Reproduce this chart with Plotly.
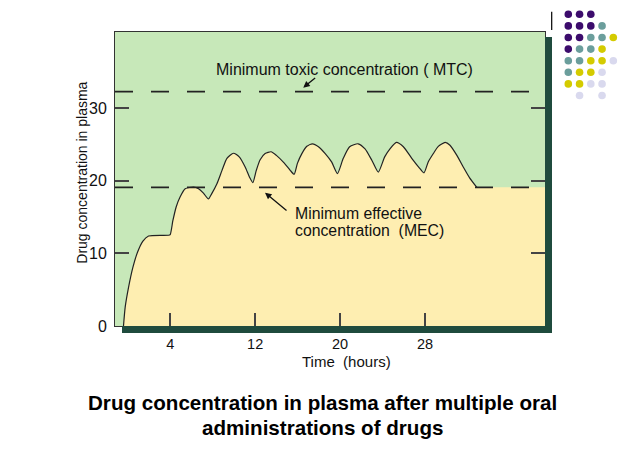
import plotly.graph_objects as go

# ---- curve (hours, concentration) ----
time_h = [-0.4, -0.24, 0.08, 0.49, 0.93, 1.43, 1.96, 3.84, 4.0, 4.25, 4.56, 4.94, 5.41,
          6.2, 6.67, 7.13, 7.6, 7.9, 8.4, 8.87, 9.34, 9.96, 10.5, 11.06, 11.47, 11.78,
          12.1, 12.47, 12.94, 13.5, 14.0, 14.7, 15.3, 15.67,
          15.98, 16.4, 16.87, 17.4, 17.96, 18.6, 19.2, 19.75,
          20.3, 20.9, 21.7, 22.35, 23.0, 23.6,
          24.2, 24.7, 25.3, 25.96, 26.75, 27.4, 27.9,
          28.3, 28.8, 29.25, 29.9, 30.35, 31.0, 31.6, 32.2, 32.9]
conc = [0.0, 2.6, 5.35, 8.1, 10.2, 11.7, 12.4, 12.5, 12.6, 14.5, 16.4, 17.8, 18.9,
        19.15, 18.9, 18.3, 17.5, 18.2, 19.6, 21.4, 23.1, 23.8, 23.3, 21.9, 20.5, 19.75,
        21.4, 22.9, 23.75, 24.0, 23.5, 22.5, 21.45, 20.9,
        22.4, 23.75, 24.75, 25.1, 24.7, 23.75, 22.6, 21.0,
        23.1, 24.7, 25.1, 24.4, 22.8, 21.2,
        23.3, 24.4, 25.3, 24.7, 23.1, 21.9, 21.1,
        22.6, 23.8, 24.75, 25.3, 24.9, 23.5, 21.9, 20.4, 19.05]

# after the last dose the shaded area stays at the MEC level
tail_h = [33.5, 39.3]
tail_c = [19.1, 19.1]

MTC = 32.28
MEC = 19.1

x_ticks = [4, 12, 20, 28]
y_ticks = [0, 10, 20, 30]

# decorative dot grid, top right (P purple, T teal, Y yellow, L lavender)
dot_rows = ["PPP..", "PPPT.", "PPTTY", "PTTY.", "TTYYL", "TYYL.", "YYLL.", ".L.L."]
dot_colors = {"P": "#3C0C6C", "T": "#6B9E9C", "Y": "#D4CB00", "L": "#D9D9EE"}

GREEN = "#C7E8B9"
YELLOW = "#FEEEB1"
DARK = "#1F4B3D"
FONT = "Liberation Sans"

# plot box in page pixels (the page adds an 8px body margin)
PX0, PY0, PW, PH = 115, 326, 430, 294


def px(x):
    return (x - PX0) / PW


def py(y):
    return (PY0 - y) / PH


fig = go.Figure()

# yellow area under the curve
fig.add_trace(go.Scatter(x=time_h + tail_h, y=conc + tail_c, mode="lines",
                         line=dict(width=0, shape="spline", smoothing=0.6),
                         fill="tozeroy", fillcolor=YELLOW, hoverinfo="skip"))
# the curve itself
fig.add_trace(go.Scatter(x=time_h, y=conc, mode="lines",
                         line=dict(color="#222222", width=1.2, shape="spline", smoothing=0.6)))

# MTC / MEC dashed levels
for level in (MTC, MEC):
    fig.add_shape(type="line", xref="paper", x0=0, x1=1, yref="y", y0=level, y1=level,
                  line=dict(color="#222222", width=1.8, dash="18px,18px"))

# dark shadow bars right and below the box
fig.add_shape(type="rect", xref="paper", yref="paper", x0=px(122), x1=px(552), y0=py(333), y1=0,
              fillcolor=DARK, line=dict(width=0))
fig.add_shape(type="rect", xref="paper", yref="paper", x0=1.0, x1=px(552), y0=py(333), y1=py(37),
              fillcolor=DARK, line=dict(width=0))
fig.add_shape(type="line", xref="paper", yref="paper", x0=px(551.7), x1=px(551.7),
              y0=py(30), y1=py(11.7), line=dict(color="black", width=1.2))

# dot grid
for r, row in enumerate(dot_rows):
    for c, code in enumerate(row):
        if code in dot_colors:
            cx, cy = 568.3 + 11.25 * c, 14.3 + 11.6 * r
            fig.add_shape(type="circle", xref="paper", yref="paper",
                          x0=px(cx - 3.8), x1=px(cx + 3.8), y0=py(cy + 3.8), y1=py(cy - 3.8),
                          fillcolor=dot_colors[code], line=dict(width=0))

# labels
def label(text, x, y, size, xanchor="center", **kw):
    fig.add_annotation(text=text, xref="paper", yref="paper", x=px(x), y=py(y),
                       xanchor=xanchor, yanchor="middle", showarrow=False,
                       font=dict(size=size, color=kw.pop("color", "#111111")), **kw)


label("Minimum toxic concentration ( MTC)", 344.5, 69, 16)
fig.add_annotation(text="", x=16.53, y=32.83, ax=13.4, ay=-11, showarrow=True,
                   arrowhead=2, arrowsize=1, arrowwidth=1.3, arrowcolor="#111111")
label("Minimum effective", 293, 213, 15.8, xanchor="left")
label("concentration  (MEC)", 293, 230, 15.8, xanchor="left")
fig.add_annotation(text="", x=12.93, y=18.36, ax=23, ay=19, showarrow=True,
                   arrowhead=2, arrowsize=1, arrowwidth=1.3, arrowcolor="#111111")

label("Drug concentration in plasma", 81.7, 173, 14, textangle=-90)
label("Time  (hours)", 346, 361, 15)

label("<b>Drug concentration in plasma after multiple oral</b>", 322, 402, 20.6, color="black")
label("<b>administrations of drugs</b>", 322, 427, 20.6, color="black")

fig.update_layout(
    width=622, height=461,
    margin=dict(l=107, r=85, t=24, b=143),
    paper_bgcolor="white", plot_bgcolor=GREEN,
    showlegend=False,
    font=dict(family=FONT, color="#111111"),
    xaxis=dict(range=[-1.2, 39.3], tickvals=x_ticks, ticks="inside", ticklen=13,
               tickwidth=1.5, tickcolor="#444444", showgrid=False, zeroline=False,
               showline=True, linecolor="#333333", linewidth=1, mirror=True,
               tickfont=dict(size=14.5), ticklabelstandoff=5),
    yaxis=dict(range=[0, 40.5], tickvals=y_ticks, ticks="inside", ticklen=14,
               tickwidth=1.5, tickcolor="#444444", showgrid=False, zeroline=False,
               showline=True, linecolor="#333333", linewidth=1, mirror="ticks",
               tickfont=dict(size=16), ticklabelstandoff=4),
)

fig.write_html("out.html")
